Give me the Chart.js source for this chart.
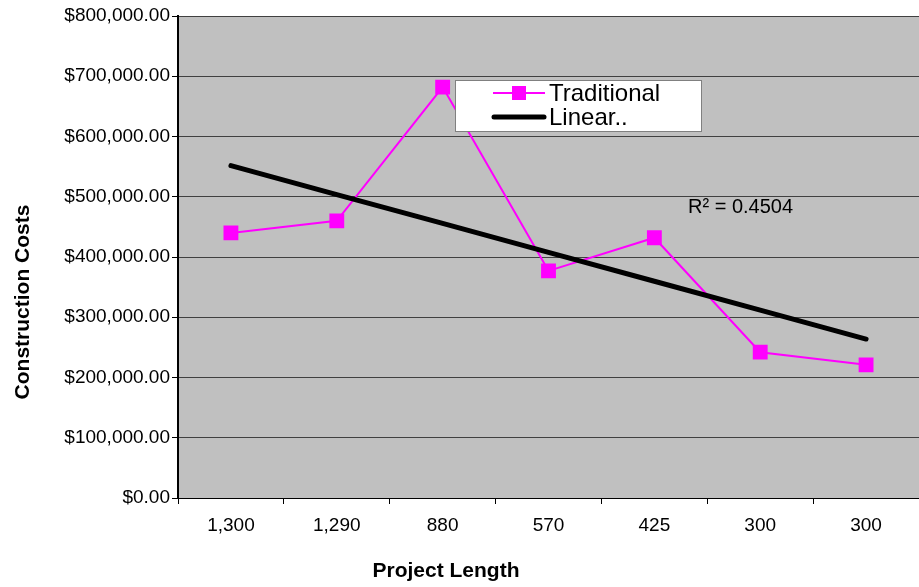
<!DOCTYPE html>
<html>
<head>
<meta charset="utf-8">
<script src="https://cdn.jsdelivr.net/npm/chart.js@4"></script>
<style>
  html, body { margin: 0; padding: 0; background: #fff; }
  #wrap { width: 919px; height: 587px; }
</style>
</head>
<body>
<div id="wrap"><canvas id="costChart" width="919" height="587"></canvas></div>
<script>
const projectLengths = ["1,300", "1,290", "880", "570", "425", "300", "300"];
const traditionalCosts = [440000, 460000, 682000, 377000, 432000, 242000, 221000];
const yMin = 0;
const yMax = 800000;
const yStep = 100000;
const xTitle = "Project Length";
const yTitle = "Construction Costs";
const rSquaredLabel = "R\u00b2 = 0.4504";

const FONT = "'Liberation Sans', Arial, Helvetica, sans-serif";

// least-squares line over the category positions (1..n)
function linearTrend(values) {
  const n = values.length;
  const xs = values.map((_, i) => i + 1);
  const mx = xs.reduce((a, b) => a + b, 0) / n;
  const my = values.reduce((a, b) => a + b, 0) / n;
  let sxy = 0, sxx = 0;
  xs.forEach((x, i) => {
    sxy += (x - mx) * (values[i] - my);
    sxx += (x - mx) * (x - mx);
  });
  const slope = sxy / sxx;
  return xs.map(x => my + slope * (x - mx));
}

const trendValues = linearTrend(traditionalCosts);

const money = v => "$" + v.toLocaleString("en-US", { minimumFractionDigits: 2, maximumFractionDigits: 2 });

// grey plot background with a thin darker frame on top
const plotBackground = {
  id: "plotBackground",
  beforeDraw(chart) {
    const { ctx, chartArea: a } = chart;
    ctx.save();
    ctx.fillStyle = "#c0c0c0";
    ctx.fillRect(a.left, a.top, a.right - a.left, a.bottom - a.top);
    ctx.strokeStyle = "#808080";
    ctx.lineWidth = 1;
    ctx.beginPath();
    ctx.moveTo(a.left, a.top + 0.5);
    ctx.lineTo(a.right, a.top + 0.5);
    ctx.stroke();
    ctx.restore();
  }
};

// axis titles sit off-centre (the plot runs past the right edge)
const axisTitles = {
  id: "axisTitles",
  afterDraw(chart) {
    const { ctx, chartArea: a } = chart;
    ctx.save();
    ctx.fillStyle = "#000";
    ctx.font = "bold 21px " + FONT;
    ctx.textAlign = "center";
    ctx.textBaseline = "middle";
    ctx.fillText(xTitle, a.left + 268, a.bottom + 73);
    ctx.translate(23, a.top + 286);
    ctx.rotate(-Math.PI / 2);
    ctx.fillText(yTitle, 0, 0);
    ctx.restore();
  }
};

// boxed legend inside the plot plus the R² note
const boxLegend = {
  id: "boxLegend",
  afterDraw(chart) {
    const { ctx, chartArea: a } = chart;
    const sets = chart.data.datasets;
    const bx = a.left + 277, by = a.top + 64, bw = 246, bh = 51;
    ctx.save();
    ctx.fillStyle = "#fff";
    ctx.fillRect(bx, by, bw, bh);
    ctx.strokeStyle = "#808080";
    ctx.lineWidth = 1;
    ctx.strokeRect(bx + 0.5, by + 0.5, bw, bh);

    ctx.font = "24px " + FONT;
    ctx.textBaseline = "middle";
    ctx.textAlign = "left";

    // Traditional
    let y = by + 13;
    ctx.strokeStyle = sets[1].borderColor;
    ctx.lineWidth = 2;
    ctx.beginPath();
    ctx.moveTo(bx + 38, y);
    ctx.lineTo(bx + 90, y);
    ctx.stroke();
    ctx.fillStyle = sets[1].pointBackgroundColor;
    ctx.fillRect(bx + 57, y - 7, 14, 14);
    ctx.fillStyle = "#000";
    ctx.fillText(sets[1].label, bx + 94, y + 1);

    // Linear trend
    y = by + 37;
    ctx.strokeStyle = sets[0].borderColor;
    ctx.lineWidth = 5;
    ctx.lineCap = "round";
    ctx.beginPath();
    ctx.moveTo(bx + 39, y);
    ctx.lineTo(bx + 89, y);
    ctx.stroke();
    ctx.fillText(sets[0].label, bx + 94, y + 1);

    ctx.font = "20px " + FONT;
    ctx.fillText(rSquaredLabel, a.left + 510, a.top + 191);
    ctx.restore();
  }
};

new Chart(document.getElementById("costChart"), {
  type: "line",
  data: {
    labels: projectLengths,
    datasets: [
      {
        label: "Linear..",
        data: trendValues,
        borderColor: "#000",
        borderWidth: 5,
        borderCapStyle: "round",
        pointRadius: 0,
        tension: 0,
        order: 0
      },
      {
        label: "Traditional",
        data: traditionalCosts,
        borderColor: "#ff00ff",
        borderWidth: 2,
        pointStyle: "rect",
        pointRadius: 10.5,
        pointBackgroundColor: "#ff00ff",
        pointBorderColor: "#ff00ff",
        pointBorderWidth: 0,
        tension: 0,
        order: 1
      }
    ]
  },
  options: {
    responsive: false,
    animation: false,
    layout: { autoPadding: false, padding: { top: 16, right: 0, bottom: 0, left: 0 } },
    plugins: {
      legend: { display: false },
      tooltip: { enabled: false }
    },
    scales: {
      x: {
        type: "category",
        offset: true,
        afterFit(scale) { scale.height = 89; },
        grid: {
          offset: true,
          drawOnChartArea: false,
          drawTicks: true,
          tickLength: 6,
          tickColor: "#000"
        },
        border: { color: "#000", width: 1 },
        ticks: {
          color: "#000",
          padding: 10,
          maxRotation: 0,
          autoSkip: false,
          font: { family: FONT, size: 19 }
        }
      },
      y: {
        min: yMin,
        max: yMax,
        afterFit(scale) { scale.width = 178; },
        grid: {
          color: "#404040",
          lineWidth: 1,
          tickLength: 6,
          tickColor: "#000"
        },
        border: { color: "#000", width: 2 },
        ticks: {
          stepSize: yStep,
          color: "#000",
          padding: 2,
          font: { family: FONT, size: 19 },
          callback: v => money(v)
        }
      }
    }
  },
  plugins: [plotBackground, axisTitles, boxLegend]
});
</script>
</body>
</html>
